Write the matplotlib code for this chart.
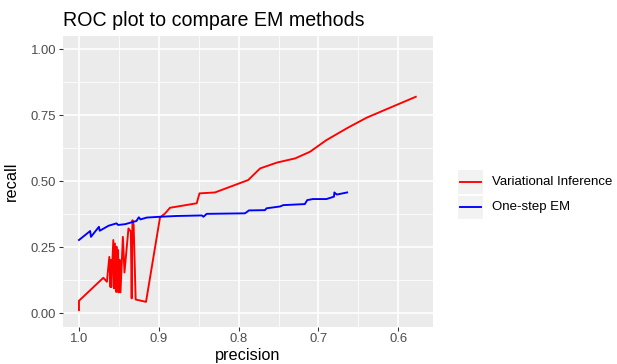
import matplotlib
matplotlib.use("Agg")
import matplotlib.pyplot as plt
from matplotlib.patches import Rectangle
from matplotlib.lines import Line2D
import numpy as np

plt.rcParams['font.family'] = ['Liberation Sans', 'DejaVu Sans']

# Variational Inference curve (precision, recall)
vi_precision = [1.0, 1.0, 0.9695, 0.965, 0.962, 0.9605, 0.960, 0.9595, 0.957, 0.956,
                0.955, 0.9535, 0.953, 0.952, 0.951, 0.950, 0.949, 0.948, 0.945, 0.943,
                0.938, 0.935, 0.934, 0.933, 0.9315, 0.929, 0.916, 0.8985, 0.892, 0.886,
                0.8525, 0.849, 0.8296, 0.788, 0.773, 0.752, 0.729, 0.7105, 0.69, 0.6625,
                0.6395, 0.610, 0.578]
vi_recall = [0.0125, 0.048, 0.135, 0.12, 0.214, 0.10, 0.203, 0.10, 0.278, 0.095,
             0.265, 0.082, 0.253, 0.082, 0.240, 0.080, 0.203, 0.080, 0.29, 0.155,
             0.322, 0.310, 0.057, 0.353, 0.335, 0.053, 0.044, 0.363, 0.379, 0.40,
             0.417, 0.4545, 0.458, 0.505, 0.549, 0.571, 0.587, 0.612, 0.656, 0.704,
             0.741, 0.779, 0.82]

# One-step EM curve
em_precision = [1.0, 0.986, 0.985, 0.975, 0.974, 0.963, 0.953, 0.951, 0.942, 0.934,
                0.928, 0.925, 0.923, 0.915, 0.8985, 0.877, 0.846, 0.844, 0.84, 0.792,
                0.787, 0.767, 0.765, 0.748, 0.744, 0.717, 0.714, 0.707, 0.690, 0.6805,
                0.680, 0.677, 0.664]
em_recall = [0.278, 0.312, 0.29, 0.328, 0.313, 0.332, 0.341, 0.335, 0.338, 0.345,
             0.35, 0.364, 0.356, 0.363, 0.366, 0.369, 0.371, 0.366, 0.377, 0.379,
             0.39, 0.391, 0.398, 0.405, 0.41, 0.414, 0.429, 0.433, 0.433, 0.442,
             0.458, 0.45, 0.458]

x_ticks = [1.0, 0.9, 0.8, 0.7, 0.6]
x_ticklabels = ["1.0", "0.9", "0.8", "0.7", "0.6"]
y_ticks = [0.0, 0.25, 0.5, 0.75, 1.0]
y_ticklabels = ["0.00", "0.25", "0.50", "0.75", "1.00"]
series_names = ["Variational Inference", "One-step EM"]
series_colors = ["#FF0000", "#0000FF"]

W, H = 617, 364
fig = plt.figure(figsize=(W / 96, H / 96), dpi=96)
L, R, T, B = 62.7, 432.7, 36.0, 326.7
ax = fig.add_axes([L / W, 1 - B / H, (R - L) / W, (B - T) / H])
ax.set_facecolor("#EBEBEB")
for s in ax.spines.values():
    s.set_visible(False)

ax.set_xlim(1.0204, 0.5568)
ax.set_ylim(-0.05, 1.05)
ax.set_xticks(x_ticks)
ax.set_xticklabels(x_ticklabels)
ax.set_yticks(y_ticks)
ax.set_yticklabels(y_ticklabels)
ax.set_xticks([0.95, 0.85, 0.75, 0.65], minor=True)
ax.set_yticks([0.125, 0.375, 0.625, 0.875], minor=True)
ax.grid(which="major", color="white", linewidth=1.2)
ax.grid(which="minor", color="white", linewidth=0.6)
ax.set_axisbelow(True)
ax.tick_params(which="major", length=3.2, width=0.8, color="#333333",
               labelsize=9.8, labelcolor="#4D4D4D", pad=1.8)
ax.tick_params(which="minor", length=0)

ax.plot(vi_precision, vi_recall, color=series_colors[0], linewidth=1.42)
ax.plot(em_precision, em_recall, color=series_colors[1], linewidth=1.42)

fig.text(L / W, 1 - 26 / H, "ROC plot to compare EM methods", fontsize=14.7,
         ha="left", va="baseline", color="black")
fig.text((L + R) / 2 / W, 1 - 348 / H, "precision", fontsize=12.2, ha="center", va="top")
fig.text(11 / W, 1 - (T + B) / 2 / H, "recall", fontsize=12.2, rotation=90,
         ha="center", va="center")

# legend
key_tops = [170.0, 195.5]
for name, col, top in zip(series_names, series_colors, key_tops):
    fig.add_artist(Rectangle((458 / W, 1 - (top + 23.5) / H), 24.5 / W, 23.5 / H,
                             transform=fig.transFigure, facecolor="#F2F2F2",
                             edgecolor="none"))
    yc = 1 - (top + 11.75) / H
    fig.add_artist(Line2D([460 / W, 481 / W], [yc, yc], transform=fig.transFigure,
                          color=col, linewidth=1.42))
    fig.text(492 / W, yc, name, fontsize=9.9, ha="left", va="center", color="black")

fig.savefig("out.png", dpi=96)
